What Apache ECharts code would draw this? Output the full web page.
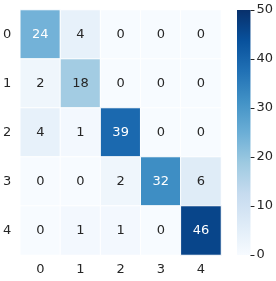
<!DOCTYPE html>
<html><head><meta charset="utf-8">
<script src="https://cdn.jsdelivr.net/npm/echarts@6/dist/echarts.min.js"></script>
<style>html,body{margin:0;padding:0;background:#fff}#c{width:276px;height:281px}</style>
</head><body><div id="c"></div>
<script>
const xLabels = ['0','1','2','3','4'];
const yLabels = ['0','1','2','3','4'];
const matrix = [
  [24, 4, 0, 0, 0],
  [2, 18, 0, 0, 0],
  [4, 1, 39, 0, 0],
  [0, 0, 2, 32, 6],
  [0, 1, 1, 0, 46]
];
const colorbarTicks = [0, 10, 20, 30, 40, 50];
const blues = ['#f7fbff','#deebf7','#c6dbef','#9ecae1','#6baed6','#4292c6','#2171b5','#08519c','#08306b'];
const vmin = 0, vmax = 50;

const data = [];
matrix.forEach((row, r) => row.forEach((v, c) => {
  data.push({ value: [c, r, v], label: { color: v >= 20 ? '#ffffff' : '#262626' } });
}));

const chart = echarts.init(document.getElementById('c'), null, { renderer: 'canvas' });
const font = 'DejaVu Sans';
chart.setOption({
  animation: false,
  backgroundColor: '#fff',
  textStyle: { fontFamily: font },
  grid: [
    { left: 20, top: 10, width: 201, height: 245 },
    { left: 237, top: 10, width: 16, height: 245 }
  ],
  xAxis: [
    { type: 'category', data: xLabels, gridIndex: 0, axisLine: { show: false }, axisTick: { show: false },
      axisLabel: { color: '#262626', fontSize: 13, margin: 8, fontFamily: font }, splitLine: { show: false } },
    { type: 'category', data: ['cb'], gridIndex: 1, show: false }
  ],
  yAxis: [
    { type: 'category', data: yLabels, inverse: true, gridIndex: 0, axisLine: { show: false }, axisTick: { show: false },
      axisLabel: { color: '#262626', fontSize: 13, margin: 9, fontFamily: font }, splitLine: { show: false } },
    { type: 'value', gridIndex: 1, min: colorbarTicks[0], max: colorbarTicks[colorbarTicks.length - 1], interval: 10,
      position: 'right', axisLine: { show: false },
      axisTick: { show: true, length: 4, inside: false, lineStyle: { color: '#262626', width: 1 } },
      axisLabel: { color: '#262626', fontSize: 13, margin: 6, fontFamily: font }, splitLine: { show: false } }
  ],
  visualMap: { show: false, min: vmin, max: vmax, seriesIndex: 0, dimension: 2, inRange: { color: blues } },
  series: [
    { type: 'heatmap', xAxisIndex: 0, yAxisIndex: 0, data: data,
      itemStyle: { borderColor: '#ffffff', borderWidth: 1 },
      label: { show: true, fontSize: 13, fontFamily: font, formatter: p => p.value[2] },
      emphasis: { disabled: true } },
    { type: 'bar', xAxisIndex: 1, yAxisIndex: 1, barWidth: '100%', data: [vmax], silent: true,
      itemStyle: { color: new echarts.graphic.LinearGradient(0, 1, 0, 0,
        blues.map((c, i) => ({ offset: i / (blues.length - 1), color: c }))) } }
  ]
});
</script></body></html>
